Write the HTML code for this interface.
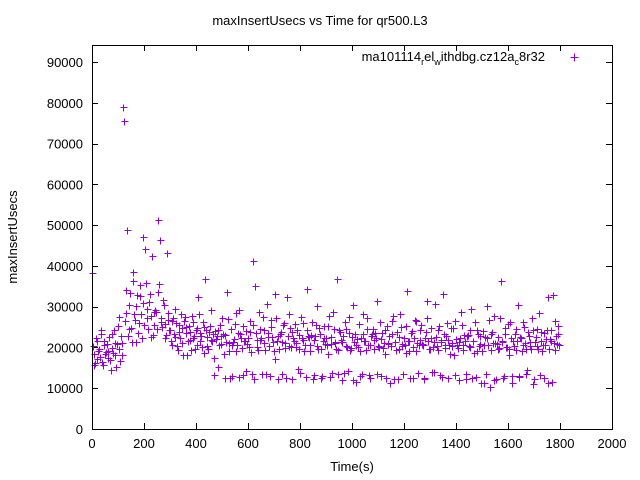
<!DOCTYPE html>
<html><head><meta charset="utf-8"><style>
body{margin:0;background:#fff}
svg{display:block;font-family:"Liberation Sans",sans-serif}
</style></head><body>
<svg id="chart" width="640" height="480">
<text x="320" y="25" font-size="13" text-anchor="middle">maxInsertUsecs vs Time for qr500.L3</text>
<text x="17" y="237" font-size="13" text-anchor="middle" transform="rotate(-90 17 237)">maxInsertUsecs</text>
<text x="352" y="471" font-size="13" text-anchor="middle">Time(s)</text>
<g id="ticks"></g>
<g id="pts"></g>
<rect x="92.5" y="45.5" width="520" height="384" fill="none" stroke="#000" stroke-width="1"/>
<g>
<text x="545" y="61" font-size="13" text-anchor="end">ma101114<tspan font-size="9" dy="4">r</tspan><tspan dy="-4">el</tspan><tspan font-size="9" dy="4">w</tspan><tspan dy="-4">ithdbg.cz12a</tspan><tspan font-size="9" dy="4">c</tspan><tspan dy="-4">8r32</tspan></text>
<path d="M570.5 57.5h8M574.5 53.5v8" stroke="#9400d3" stroke-width="1"/>
</g>
</svg>
<script>
const xTicks=[0,200,400,600,800,1000,1200,1400,1600,1800,2000];
const yTicks=[0,10000,20000,30000,40000,50000,60000,70000,80000,90000];
const stepA=6, offsetA=0, stepB=6, offsetB=3;
const valuesA=[38.3,18.4,16.2,21.7,19.1,17.6,23.3,15.8,20.5,18.9,17.3,22.6,14.4,19.8,24.2,18.1,20.9,27.4,16.7,21.2,79.0,26.5,34.1,22.8,30.3,24.7,38.6,28.2,21.4,32.9,26.1,35.4,22.3,30.8,44.2,29.5,24.6,33.2,27.8,23.1,25.4,28.7,51.2,35.6,26.3,24.9,30.4,22.2,43.1,26.8,24.3,20.7,27.1,22.5,25.9,19.4,23.7,28.3,21.1,26.6,23.5,18.2,25.3,21.8,27.6,22.4,19.7,24.8,32.3,21.5,22.9,26.2,18.6,24.4,20.3,23.9,29.2,21.6,17.4,24.1,22.7,15.3,25.6,20.8,23.2,12.4,21.3,26.9,19.2,24.6,13.1,22.1,28.4,20.6,12.7,23.4,19.9,25.2,21.7,14.3,22.3,26.4,18.8,41.3,12.2,23.6,20.1,28.8,21.9,13.6,24.2,19.3,30.6,22.6,12.9,25.1,21.4,17.2,27.3,22.8,19.6,23.8,13.4,26.1,21.2,32.4,20.4,24.7,12.3,22.2,25.7,20.2,14.6,23.1,27.5,21.8,19.1,12.8,24.3,22.5,20.6,26.3,13.2,22.9,30.1,19.5,23.4,12.6,21.6,25.2,22.4,18.3,27.8,20.9,13.7,24.5,21.1,36.7,19.4,23.9,12.1,22.7,26.2,20.3,14.2,23.6,19.8,30.4,21.3,11.6,22.1,25.8,19.2,13.5,23.3,21.7,27.2,20.5,12.4,22.8,24.6,19.7,22.3,31.4,20.1,12.9,23.5,21.2,18.4,25.3,20.8,11.3,23.2,27.6,21.4,19.3,12.2,22.6,25.1,20.4,22.2,18.7,33.8,21.6,12.5,24.1,20.2,26.7,19.1,13.8,21.9,25.4,20.6,12.3,23.7,27.1,19.5,22.4,14.1,21.3,30.7,20.3,24.4,13.3,21.8,33.2,19.9,22.7,12.6,20.5,24.8,21.2,18.1,26.4,20.7,12.1,22.3,25.6,19.4,21.5,13.4,23.1,20.2,29.4,21.7,18.6,12.7,24.3,20.4,22.9,19.2,11.4,22.5,30.2,20.6,10.3,23.3,21.1,27.7,12.2,22.6,19.8,36.4,21.3,13.1,24.7,20.1,18.2,26.3,11.2,21.6,23.4,19.3,30.4,12.8,22.2,20.7,25.1,19.5,14.4,22.8,20.3,27.2,11.1,21.4,24.6,19.6,13.2,23.8,20.5,12.4,22.1,32.3,19.7,24.4,11.5,21.2,26.6,20.8,23.3];
const valuesB=[20.3,15.6,22.4,17.1,19.7,24.2,16.4,21.6,18.3,20.8,19.2,16.8,23.4,18.6,21.1,15.2,25.3,19.5,22.7,18.1,75.6,28.4,48.9,24.6,33.4,21.3,36.2,26.7,30.1,23.5,32.6,28.2,47.1,25.4,35.8,27.3,31.2,22.6,42.4,28.8,29.3,24.5,33.7,46.4,27.2,31.6,25.8,23.1,28.5,24.2,21.7,26.4,23.2,29.5,20.4,25.6,22.3,24.8,18.2,27.4,25.1,21.5,23.8,19.3,26.2,22.7,24.4,20.6,28.1,23.6,20.2,24.9,36.8,22.5,19.6,25.3,21.8,23.4,13.2,22.1,24.3,20.5,22.8,27.3,18.4,23.1,33.5,21.2,12.6,20.7,21.3,25.7,19.2,23.5,29.1,22.4,13.3,21.6,24.1,20.9,20.2,23.7,13.6,25.4,35.1,21.8,19.3,24.6,22.2,27.5,21.1,13.4,23.6,20.3,26.8,22.5,19.1,33.2,21.7,12.3,23.2,21.4,25.6,19.8,12.5,22.9,28.3,20.1,23.7,21.5,21.2,24.4,19.5,13.7,22.3,26.1,20.6,34.3,22.8,19.2,23.1,12.2,21.9,25.5,20.4,24.7,19.6,13.1,22.2,20.8,20.5,25.2,12.7,22.6,28.6,21.3,19.7,13.5,24.2,21.8,21.4,13.8,24.6,20.2,27.4,19.3,22.5,12.1,23.4,20.7,20.1,12.9,22.3,28.2,21.6,19.4,24.5,13.3,20.6,23.2,21.9,23.5,13.6,20.4,26.2,22.1,19.8,24.3,12.5,21.2,22.7,20.3,26.5,12.2,21.4,23.8,19.5,28.1,20.9,13.4,20.6,25.3,21.7,19.1,23.6,12.4,22.2,26.4,21.1,20.5,24.2,20.8,12.6,22.4,31.3,21.5,19.6,24.8,20.2,13.9,22.6,19.4,25.2,21.3,12.8,23.3,20.7,26.1,21.8,18.5,20.3,24.7,13.2,22.1,19.9,21.4,28.6,20.5,23.1,12.3,22.8,20.4,24.3,12.6,21.5,26.2,19.2,23.4,20.8,11.4,24.1,20.6,13.5,22.4,26.8,19.3,23.7,12.1,21.2,20.9,19.5,27.3,21.6,12.4,23.2,20.1,25.8,19.7,22.3,13.1,20.4,24.5,21.7,12.9,22.6,19.2,26.3,21.1,13.6,23.8,21.3,19.6,24.2,12.2,22.5,20.3,28.4,21.5,19.1,23.6,20.7,24.3,11.2,22.1,21.6,32.8,19.4,22.9,25.2,20.5];
const unitScale=1000;
const X0=92,X1=612,Y0=429,Y1=62;
const xs=t=>X0+(t/2000)*(X1-X0);
const ys=v=>Y0-(v/90000)*(Y0-Y1);
const NS='http://www.w3.org/2000/svg';
const tg=document.getElementById('ticks');
xTicks.forEach(t=>{
  const x=Math.round(xs(t))+0.5;
  const p=document.createElementNS(NS,'path');
  p.setAttribute('d',`M${x} 429v-6M${x} 45v6`);p.setAttribute('stroke','#000');
  
  
  tg.appendChild(p);
  const l=document.createElementNS(NS,'text');
  l.setAttribute('x',xs(t));l.setAttribute('y',448);l.setAttribute('font-size','13');l.setAttribute('text-anchor','middle');
  l.textContent=t;
  
  
  tg.appendChild(l);
});
yTicks.forEach(v=>{
  const y=Math.round(ys(v))+0.5;
  const p=document.createElementNS(NS,'path');
  p.setAttribute('d',`M92 ${y}h6M612 ${y}h-6`);p.setAttribute('stroke','#000');
  
  
  tg.appendChild(p);
  const l=document.createElementNS(NS,'text');
  l.setAttribute('x',83);l.setAttribute('y',ys(v)+5);l.setAttribute('font-size','13');l.setAttribute('text-anchor','end');
  l.textContent=v;
  
  
  tg.appendChild(l);
});
const pg=document.getElementById('pts');
function plot(arr,step,off,name){
  let d='';
  arr.forEach((v,i)=>{
    const x=Math.round(xs(i*step+off))+0.5, y=Math.round(ys(v*unitScale))+0.5;
    d+=`M${x-3} ${y}h7M${x} ${y-3}v7`;
  });
  const p=document.createElementNS(NS,'path');
  p.setAttribute('d',d);p.setAttribute('stroke','#9400d3');p.setAttribute('fill','none');
  
  
  pg.appendChild(p);
}
plot(valuesA,stepA,offsetA,'series-a-points');
plot(valuesB,stepB,offsetB,'series-b-points');
</script>
</body></html>
